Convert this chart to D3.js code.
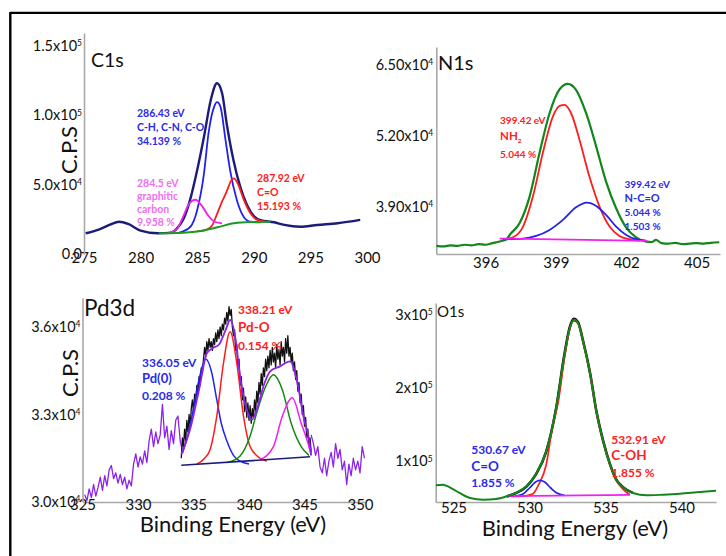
<!DOCTYPE html>
<html><head><meta charset="utf-8">
<script src="https://cdn.jsdelivr.net/npm/d3@7"></script>
<style>body{margin:0;background:#fff}svg{display:block}</style>
</head><body><svg id="c" width="726" height="556"></svg>
<script>
// ---------------- DATA (binding energy eV, intensity in kCPS) ----------------
// C1s
const c1sXTicks = [275, 280, 285, 290, 295, 300];
const c1sYTicks = [0, 50, 100, 150];
const c1sYTickLabels = [["0.0", ""], ["5.0x10", "4"], ["1.0x10", "5"], ["1.5x10", "5"]];
const c1sEnvelope = [[275.15,15.1],[276.3,17.8],[277.3,21.3],[278.1,23.4],[278.9,21.8],[280.0,17.0],[281.5,15.1],[282.6,15.4],[283.2,18.5],[283.8,25.5],[284.4,40],[285.0,60.6],[285.6,84.5],[286.2,110.9],[286.75,122.9],[287.2,115.7],[287.6,94.2],[288.2,67.8],[288.8,48.6],[289.4,35.4],[290.0,27.5],[290.6,24.5],[291.8,23.0],[292.7,21.1],[294.1,19.8],[295.6,21.1],[297.4,22.3],[299.4,24.7]];
const c1sCH = [[283.3,15.3],[284.4,19.8],[285.0,31.8],[285.6,58.2],[286.0,87],[286.5,106.1],[286.75,109.3],[287.05,106.1],[287.5,82.2],[287.9,60.6],[288.5,39],[289.1,27],[289.7,23.4],[290.6,23.0]];
const c1sCO = [[285.0,16.4],[285.8,17.6],[286.3,20.5],[286.8,30],[287.2,38],[287.6,45],[288.0,53],[288.25,54.6],[288.6,50.5],[289.1,39.5],[289.7,29.5],[290.3,24.7],[291.0,23.4]];
const c1sGraphitic = [[282.4,15.3],[283.2,18],[283.7,26],[284.3,36.5],[284.85,39.2],[285.4,35],[286.0,27.5],[286.6,23.2],[287.2,22.2]];
const c1sBackground = [[281.6,15.1],[283.2,15.3],[284.3,15.8],[285.3,16.8],[286.8,19.4],[288.25,22.3],[289.7,23.2],[291.5,23.4]];
const c1sNoteCH = ["286.43 eV", "C-H, C-N, C-O", "34.139 %"];
const c1sNoteGraphitic = ["284.5 eV", "graphitic", "carbon", "9.958 %"];
const c1sNoteCO = ["287.92 eV", "C=O", "15.193 %"];

// N1s
const n1sXTicks = [396, 399, 402, 405];
const n1sYTicks = [39, 52, 65];
const n1sYTickLabels = [["3.90x10", "4"], ["5.20x10", "4"], ["6.50x10", "4"]];
const n1sEnvelope = [[393.9,31.8],[394.2,31.7],[394.5,31.9],[394.8,31.8],[395.1,32.0],[395.4,31.9],[395.7,32.1],[396.0,32.0],[396.3,32.3],[396.6,32.6],[396.9,33.0],[397.03,33.8],[397.45,35.95],[397.88,40.84],[398.30,48.8],[398.73,56.14],[399.16,60.55],[399.51,61.53],[399.86,60.43],[400.29,56.14],[400.72,50.02],[401.14,43.6],[401.57,38.7],[402.0,35.15],[402.42,33.37],[402.85,32.58],[403.1,32.5],[403.27,32.9],[403.5,32.3],[403.8,32.2],[404.1,32.35],[404.4,32.1],[404.7,32.2],[405.0,32.3],[405.3,32.2],[405.6,32.35],[405.97,32.46]];
const n1sNH2 = [[396.74,33.01],[397.17,33.38],[397.6,35.33],[398.02,40.84],[398.44,48.8],[398.87,55.53],[399.16,57.49],[399.37,57.67],[399.65,56.14],[400.01,51.25],[400.43,44.51],[400.86,39.01],[401.29,35.33],[401.71,33.62],[402.14,33.01],[402.56,32.77]];
const n1sNCO = [[396.74,33.01],[397.6,33.13],[398.16,33.62],[398.73,34.72],[399.30,36.56],[399.86,38.88],[400.32,39.74],[400.72,39.13],[401.14,37.48],[401.57,35.33],[402.0,33.8],[402.42,33.01],[402.85,32.77]];
const n1sBackground = [[396.6,33.13],[402.9,32.7]];
const n1sNoteNH2 = ["399.42 eV", "NH|2", "5.044 %"];
const n1sNoteNCO = ["399.42 eV", "N-C=O", "5.044 %", "1.503 %"];

// Pd3d
const pdXTicks = [325, 330, 335, 340, 345, 350];
const pdYTicks = [30, 33, 36];
const pdYTickLabels = [["3.0x10", "4"], ["3.3x10", "4"], ["3.6x10", "4"]];
const pdRawLeftStart = 325.2, pdRawLeftStep = 0.2;
const pdRawLeft = [30.25,30.05,30.45,30.15,30.6,30.2,30.5,30.85,30.4,30.9,30.55,31.1,31.25,30.8,31.0,30.65,30.95,30.6,30.85,30.45,30.75,30.55,31.3,31.65,31.2,31.55,31.3,31.75,31.35,32.1,32.5,31.9,32.4,32.0,32.3,33.35,32.2,32.6,31.8,32.45,32.0,32.8,32.95,32.1,31.75];
const pdRawRightStart = 345.6, pdRawRightStep = 0.2;
const pdRawRight = [32.3,32.0,31.6,31.9,31.2,31.0,31.5,30.9,31.4,31.7,31.2,32.0,31.5,31.8,31.1,31.4,30.6,31.3,30.9,31.5,31.1,31.4,31.0,31.9,31.5];
const pdRawFitStart = 333.9, pdRawFitStep = 0.1;
const pdRawFit = [31.5,32.2,31.9,32.5,32.1,32.8,32.4,33.0,32.6,33.2,33.5,33.1,33.7,33.4,34.0,33.7,34.3,34.0,34.6,34.4,34.9,35.3,35.0,35.5,35.2,35.6,35.3,35.5,35.2,35.6,35.4,35.8,35.5,35.9,35.6,36.0,35.7,36.1,35.9,36.3,36.1,36.5,36.2,36.7,36.4,36.6,36.0,35.7,35.9,35.2,35.4,34.6,34.9,34.0,34.3,33.5,33.9,33.1,33.6,32.9,33.4,32.8,33.3,32.7,33.2,32.9,33.5,33.1,33.8,33.4,34.1,33.7,34.4,34.0,34.6,34.3,34.9,34.5,35.0,34.6,35.2,34.7,35.3,34.8,35.1,34.6,35.4,34.9,35.2,34.7,35.5,35.0,35.3,34.8,35.6,35.1,35.7,35.0,35.3,34.8,35.1,34.5,34.8,34.2,34.5,33.8,34.1,33.4,33.7,33.0,33.3,32.6,32.9,32.2,32.5,31.9,32.2,31.7];
const pdEnvelope = [[333.9,31.63],[334.7,32.5],[335.5,33.85],[336.2,35.1],[336.7,35.27],[337.3,35.4],[337.9,35.9],[338.3,36.24],[338.8,35.56],[339.2,34.3],[339.8,33.17],[340.3,32.83],[340.7,33.17],[341.4,34.08],[341.9,34.48],[342.8,34.65],[343.7,34.82],[344.3,34.19],[344.9,32.94],[345.5,31.92],[345.6,31.6]];
const pdPd0 = [[334.0,31.67],[334.5,32.3],[335.0,33.2],[335.5,34.2],[336.1,34.9],[336.6,34.5],[337.1,33.5],[337.5,32.7],[338.0,32.1],[338.6,31.6],[339.2,31.4],[340.0,31.3]];
const pdPdO = [[335.3,31.3],[336.0,31.5],[336.5,31.8],[337.1,32.95],[337.7,34.76],[338.3,35.84],[338.9,34.76],[339.5,32.95],[340.1,31.9],[341.0,31.5],[341.6,31.4]];
const pdPd0b = [[338.0,31.35],[339.2,31.58],[340.1,32.26],[340.7,33.06],[341.5,33.96],[342.2,34.36],[343.0,33.85],[343.8,32.7],[344.7,31.9],[345.4,31.6]];
const pdPdOb = [[341.0,31.45],[342.2,31.9],[343.0,32.94],[343.9,33.57],[344.7,32.7],[345.4,31.9],[345.6,31.6]];
const pdBackground = [[333.9,31.26],[345.5,31.55]];
const pdNotePd0 = ["336.05 eV", "Pd(0)", "0.208 %"];
const pdNotePdO = ["338.21 eV", "Pd-O", "0.154 %"];

// O1s
const o1sXTicks = [525, 530, 535, 540];
const o1sYTicks = [100, 200, 300];
const o1sYTickLabels = [["1x10", "5"], ["2x10", "5"], ["3x10", "5"]];
const o1sEnvelope = [[523.83,67.2],[524.3,68.1],[524.75,64.5],[525.4,56.8],[526.1,49.9],[526.95,47.7],[527.8,48.6],[528.5,52.2],[529.1,56.8],[529.8,65.9],[530.4,81.8],[531.1,113.6],[531.75,172.7],[532.3,245.5],[532.65,281.9],[532.91,293.2],[533.2,288.7],[533.5,265.9],[534.0,218.2],[534.4,168.2],[534.85,127.2],[535.3,95.4],[535.7,74.9],[536.15,64.5],[536.8,56.8],[537.7,53.6],[538.8,54.5],[539.9,55.8],[541.0,57.7],[542.27,59.9]];
const o1sRaw = [[528.5,52.0],[529.1,56.6],[529.8,65.5],[530.4,81.5],[531.1,113.2],[531.75,172.2],[532.3,246],[532.65,283],[532.91,294.5],[533.2,289.5],[533.5,266.5],[534.0,218.8],[534.4,168.5],[534.85,127.5],[535.3,95.8],[535.7,75.3],[536.15,64.8],[536.8,57]];
const o1sCOH = [[528.7,52.2],[529.6,52.6],[530.2,55.3],[530.6,68.1],[531.1,95.4],[531.5,145.5],[531.9,181.9],[532.3,241],[532.65,280.5],[532.91,291.5],[533.2,288],[533.5,265.5],[534.0,218],[534.4,168],[534.85,127],[535.3,95],[535.7,74.5],[536.15,62],[536.6,54.5]];
const o1sCdO = [[528.9,52.2],[529.5,54.5],[530.0,63.6],[530.4,71.8],[530.67,74],[531.0,71.8],[531.4,63.6],[531.8,56.8],[532.3,53.6]];
const o1sBackground = [[528.7,52.4],[536.6,54.2]];
const o1sNoteCdO = ["530.67 eV", "C=O", "1.855 %"];
const o1sNoteCOH = ["532.91 eV", "C-OH", "1.855 %"];

const axisTitleX = "Binding Energy (eV)";
const axisTitleY = "C.P.S";

// ---------------- DRAWING ----------------
const FONT = 'Lato, "DejaVu Sans", sans-serif';
const svg = d3.select('#c');
const NAVY = '#1c1c78', BLUE = '#2222ee', RED = '#ff1c1c', MAG = '#f020f0', GREEN = '#12861a', PURPLE = '#8b22ee';

// frame
svg.append('line').attr('x1', 10).attr('x2', 726).attr('y1', 12.8).attr('y2', 12.8).attr('stroke', '#000').attr('stroke-width', 2.2);
svg.append('line').attr('x1', 10.3).attr('x2', 10.3).attr('y1', 12).attr('y2', 556).attr('stroke', '#000').attr('stroke-width', 2.4);

const series = (arr, start, step) => arr.map((v, i) => [start + i * step, v]);

function drawPanel(p) {
  const x = d3.scaleLinear().domain(p.xDomain).range(p.xRange);
  const y = d3.scaleLinear().domain(p.yDomain).range(p.yRange);
  const g = svg.append('g');
  const cid = 'clip-' + p.id;
  svg.append('clipPath').attr('id', cid).append('rect')
    .attr('x', p.xRange[0]).attr('y', p.yRange[1])
    .attr('width', p.xRange[1] - p.xRange[0]).attr('height', p.yRange[0] - p.yRange[1]);

  const xa = g.append('g').attr('transform', `translate(0,${p.yRange[0]})`)
    .call(d3.axisBottom(x).tickValues(p.xTicks).tickSize(0).tickSizeOuter(0).tickPadding(p.xPad).tickFormat(d3.format('d')));
  xa.attr('font-family', FONT).attr('font-size', 15);
  xa.select('.domain').attr('stroke', p.xLine ? '#a8a8a8' : 'none').attr('stroke-width', 1.6);
  xa.selectAll('.tick text').attr('fill', '#111');

  const ya = g.append('g').attr('transform', `translate(${p.xRange[0]},0)`)
    .call(d3.axisLeft(y).tickValues(p.yTicks).tickSize(0).tickSizeOuter(0).tickPadding(p.yPad));
  ya.attr('font-family', FONT).attr('font-size', 14.5);
  ya.select('.domain').attr('stroke', '#a8a8a8').attr('stroke-width', 1.6);
  ya.selectAll('.tick text').attr('fill', '#111').each(function (d, i) {
    const t = d3.select(this), lab = p.yLabels[i];
    t.text(null);
    t.append('tspan').text(lab[0]);
    if (lab[1]) t.append('tspan').attr('dy', '-0.55em').attr('font-size', 8.5).text(lab[1]);
  });

  const plot = g.append('g').attr('clip-path', `url(#${cid})`);
  p.lines.forEach(l => {
    plot.append('path').datum(l.data)
      .attr('fill', 'none').attr('stroke', l.color).attr('stroke-width', l.w)
      .attr('stroke-linejoin', 'round')
      .attr('d', d3.line().x(d => x(d[0])).y(d => y(d[1])).curve(l.smooth ? d3.curveMonotoneX : d3.curveLinear));
  });

  p.notes.forEach(n => {
    const t = g.append('text').attr('x', x(n.at[0])).attr('y', y(n.at[1]))
      .attr('font-family', FONT).attr('font-weight', 700).attr('fill', n.color);
    n.lines.forEach((s, i) => {
      const fs = (n.sizes && n.sizes[i]) || n.size;
      const parts = s.split('|');
      t.append('tspan').attr('x', x(n.at[0])).attr('dy', i === 0 ? 0 : n.gap).attr('font-size', fs).text(parts[0]);
      if (parts[1]) {
        t.append('tspan').attr('dy', 3).attr('font-size', fs * 0.55).text(parts[1]);
        t.append('tspan').attr('dy', -3).text('');
      }
    });
  });

  g.append('text').attr('x', p.title.x).attr('y', p.title.y).attr('font-family', FONT)
    .attr('font-size', p.title.size).attr('fill', '#111').text(p.title.text);
  if (p.yTitle) g.append('text').attr('transform', `translate(${p.yTitle.x},${p.yTitle.y}) rotate(-90)`)
    .attr('text-anchor', 'middle').attr('font-family', FONT).attr('font-size', 22).attr('fill', '#111').text(axisTitleY);
  if (p.xTitle) g.append('text').attr('x', p.xTitle.x).attr('y', p.xTitle.y)
    .attr('text-anchor', 'middle').attr('font-family', FONT).attr('font-size', 22).attr('fill', '#111').text(axisTitleX);
}

drawPanel({
  id: 'c1s', xDomain: [275, 300], xRange: [84, 367], yDomain: [0, 159], yRange: [254.3, 33],
  xTicks: c1sXTicks, yTicks: c1sYTicks, yLabels: c1sYTickLabels, xPad: -2, yPad: 2, xLine: false,
  lines: [
    {data: c1sEnvelope, color: NAVY, w: 2.4, smooth: true},
    {data: c1sCH, color: BLUE, w: 1.8, smooth: true},
    {data: c1sCO, color: RED, w: 1.8, smooth: true},
    {data: c1sGraphitic, color: MAG, w: 1.8, smooth: true},
    {data: c1sBackground, color: '#1a9a22', w: 2, smooth: true}
  ],
  notes: [
    {at: [279.68, 98.3], color: '#2a2aea', size: 10.5, gap: 14, lines: c1sNoteCH},
    {at: [279.68, 48.7], color: '#f070f0', size: 10.5, gap: 13.3, lines: c1sNoteGraphitic},
    {at: [290.28, 51.6], color: '#ff2020', size: 10.5, gap: 14, lines: c1sNoteCO}
  ],
  title: {text: 'C1s', x: 91, y: 67, size: 19.5},
  yTitle: {x: 77, y: 150}
});

drawPanel({
  id: 'n1s', xDomain: [393.9, 406.0], xRange: [436.3, 720], yDomain: [30.3, 68.3], yRange: [254, 47],
  xTicks: n1sXTicks, yTicks: n1sYTicks, yLabels: n1sYTickLabels, xPad: 3, yPad: 3, xLine: true,
  lines: [
    {data: n1sEnvelope, color: GREEN, w: 2.2, smooth: true},
    {data: n1sNH2, color: RED, w: 1.8, smooth: true},
    {data: n1sNCO, color: BLUE, w: 1.8, smooth: true},
    {data: n1sBackground, color: MAG, w: 1.8, smooth: false}
  ],
  notes: [
    {at: [396.62, 54.16], color: '#ff2020', size: 10, sizes: [10, 11.5, 10], gap: 15.5, lines: n1sNoteNH2},
    {at: [401.93, 42.5], color: '#2a2aea', size: 10, sizes: [10, 11, 10, 10], gap: 14, lines: n1sNoteNCO}
  ],
  title: {text: 'N1s', x: 438, y: 70, size: 20}
});

drawPanel({
  id: 'pd', xDomain: [325, 350.45], xRange: [82.5, 365], yDomain: [30, 36.994], yRange: [502, 298],
  xTicks: pdXTicks, yTicks: pdYTicks, yLabels: pdYTickLabels, xPad: -3, yPad: 2, xLine: true,
  lines: [
    {data: series(pdRawLeft, pdRawLeftStart, pdRawLeftStep), color: PURPLE, w: 1.3, smooth: false},
    {data: series(pdRawRight, pdRawRightStart, pdRawRightStep), color: PURPLE, w: 1.3, smooth: false},
    {data: series(pdRawFit, pdRawFitStart, pdRawFitStep), color: '#111', w: 1.3, smooth: false},
    {data: pdPd0, color: BLUE, w: 1.5, smooth: true},
    {data: pdPdO, color: RED, w: 1.5, smooth: true},
    {data: pdPd0b, color: '#128a12', w: 1.5, smooth: true},
    {data: pdPdOb, color: MAG, w: 1.5, smooth: true},
    {data: pdBackground, color: NAVY, w: 1.6, smooth: false},
    {data: pdEnvelope, color: PURPLE, w: 1.8, smooth: true}
  ],
  notes: [
    {at: [330.36, 34.63], color: '#2a2aea', size: 12, sizes: [12, 13, 12], gap: 16.5, lines: pdNotePd0},
    {at: [339.01, 36.45], color: '#ff2020', size: 12, sizes: [12, 13.5, 12], gap: 18, lines: pdNotePdO}
  ],
  title: {text: 'Pd3d', x: 84, y: 316, size: 22.5},
  yTitle: {x: 78, y: 373},
  xTitle: {x: 233, y: 532}
});

drawPanel({
  id: 'o1s', xDomain: [523.83, 542.27], xRange: [435.7, 716], yDomain: [44.5, 316], yRange: [502, 303],
  xTicks: o1sXTicks, yTicks: o1sYTicks, yLabels: o1sYTickLabels, xPad: 0, yPad: 3, xLine: true,
  lines: [
    {data: o1sRaw, color: '#111', w: 2.6, smooth: true},
    {data: o1sCOH, color: RED, w: 1.7, smooth: true},
    {data: o1sCdO, color: BLUE, w: 1.7, smooth: true},
    {data: o1sBackground, color: MAG, w: 1.8, smooth: false},
    {data: o1sEnvelope, color: GREEN, w: 2, smooth: true}
  ],
  notes: [
    {at: [526.17, 110], color: '#2a2aea', size: 12, sizes: [12, 13.5, 12], gap: 16.6, lines: o1sNoteCdO},
    {at: [535.38, 123.6], color: '#ff2020', size: 12, sizes: [12, 13.5, 12], gap: 16.3, lines: o1sNoteCOH}
  ],
  title: {text: 'O1s', x: 437, y: 316.5, size: 15},
  xTitle: {x: 575, y: 536}
});
</script></body></html>
